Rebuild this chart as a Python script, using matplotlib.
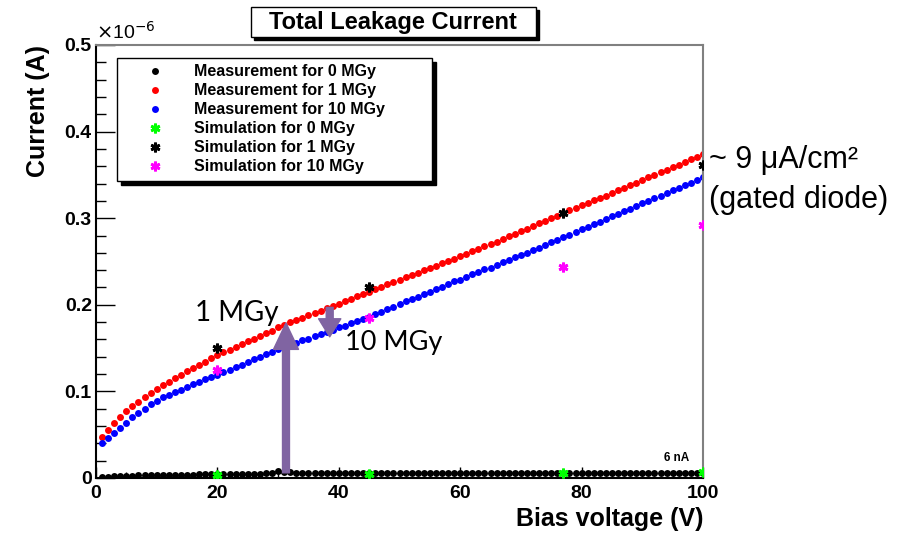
import numpy as np
import matplotlib.pyplot as plt
from matplotlib.patches import Rectangle, FancyArrowPatch

# bias voltage steps (V) and measured currents (units of 1e-6 A)
voltage = np.arange(1, 101)

meas_0mgy = [0.0010, 0.0015, 0.0020, 0.0020, 0.0025, 0.0025, 0.0030, 0.0030, 0.0030, 0.0035,
             0.0035, 0.0035, 0.0040, 0.0040, 0.0040, 0.0040, 0.0045, 0.0045, 0.0045, 0.0045,
             0.0050, 0.0050, 0.0050, 0.0050, 0.0050, 0.0050, 0.0050, 0.0055, 0.0055, 0.0080,
             0.0070, 0.0065, 0.0060, 0.0060, 0.0060, 0.0060, 0.0060, 0.0060, 0.0060, 0.0060,
             0.0060, 0.0060, 0.0060, 0.0060, 0.0060, 0.0060, 0.0060, 0.0060, 0.0060, 0.0060,
             0.0060, 0.0060, 0.0060, 0.0060, 0.0060, 0.0060, 0.0060, 0.0060, 0.0060, 0.0060,
             0.0060, 0.0060, 0.0060, 0.0060, 0.0060, 0.0060, 0.0060, 0.0060, 0.0060, 0.0060,
             0.0060, 0.0060, 0.0060, 0.0060, 0.0060, 0.0060, 0.0060, 0.0060, 0.0060, 0.0060,
             0.0060, 0.0060, 0.0060, 0.0060, 0.0060, 0.0060, 0.0060, 0.0060, 0.0060, 0.0060,
             0.0060, 0.0060, 0.0060, 0.0060, 0.0060, 0.0060, 0.0060, 0.0060, 0.0060, 0.0060]

meas_1mgy = [0.047, 0.055, 0.063, 0.070, 0.077, 0.083, 0.088, 0.093, 0.098, 0.103,
             0.107, 0.111, 0.115, 0.119, 0.123, 0.127, 0.131, 0.134, 0.138, 0.142,
             0.145, 0.148, 0.151, 0.155, 0.158, 0.161, 0.164, 0.167, 0.170, 0.174,
             0.177, 0.180, 0.182, 0.185, 0.188, 0.191, 0.193, 0.196, 0.199, 0.201,
             0.204, 0.207, 0.210, 0.212, 0.215, 0.218, 0.221, 0.224, 0.226, 0.229,
             0.232, 0.234, 0.237, 0.240, 0.243, 0.245, 0.248, 0.251, 0.253, 0.256,
             0.259, 0.262, 0.265, 0.268, 0.270, 0.273, 0.276, 0.279, 0.282, 0.285,
             0.288, 0.291, 0.294, 0.297, 0.300, 0.303, 0.306, 0.309, 0.312, 0.315,
             0.318, 0.321, 0.323, 0.326, 0.329, 0.332, 0.335, 0.338, 0.341, 0.344,
             0.347, 0.350, 0.353, 0.356, 0.359, 0.362, 0.365, 0.368, 0.371, 0.374]

meas_10mgy = [0.040, 0.046, 0.052, 0.058, 0.064, 0.070, 0.075, 0.080, 0.085, 0.089,
              0.093, 0.096, 0.099, 0.102, 0.105, 0.108, 0.111, 0.114, 0.117, 0.119,
              0.122, 0.125, 0.128, 0.131, 0.134, 0.137, 0.140, 0.143, 0.146, 0.149,
              0.151, 0.154, 0.156, 0.159, 0.161, 0.164, 0.166, 0.169, 0.171, 0.174,
              0.176, 0.179, 0.181, 0.184, 0.186, 0.189, 0.192, 0.195, 0.198, 0.201,
              0.204, 0.207, 0.209, 0.212, 0.215, 0.218, 0.221, 0.224, 0.227, 0.229,
              0.232, 0.235, 0.238, 0.241, 0.243, 0.246, 0.249, 0.252, 0.255, 0.257,
              0.260, 0.263, 0.266, 0.269, 0.272, 0.275, 0.278, 0.281, 0.284, 0.287,
              0.290, 0.293, 0.296, 0.299, 0.302, 0.305, 0.308, 0.311, 0.314, 0.317,
              0.320, 0.323, 0.326, 0.329, 0.332, 0.335, 0.338, 0.341, 0.344, 0.347]

# simulation points
sim_voltage = [20, 45, 77, 100]
sim_0mgy = [0.004, 0.005, 0.006, 0.007]
sim_1mgy = [0.150, 0.221, 0.306, 0.361]
sim_10mgy = [0.125, 0.185, 0.244, 0.292]

xticks = [0, 20, 40, 60, 80, 100]
yticks = [0, 0.1, 0.2, 0.3, 0.4, 0.5]
ytick_labels = ['0', '0.1', '0.2', '0.3', '0.4', '0.5']

fig = plt.figure(figsize=(9.15, 5.36), dpi=100)
ax = fig.add_axes([96/915, 58/536, 607/915, 433/536])

ms = 5
ax.plot(voltage, meas_0mgy, 'o', color='black', ms=ms, mew=0, label='Measurement for 0 MGy')
ax.plot(voltage, meas_1mgy, 'o', color='red', ms=ms, mew=0, label='Measurement for 1 MGy')
ax.plot(voltage, meas_10mgy, 'o', color='blue', ms=ms, mew=0, label='Measurement for 10 MGy')
star = (6, 2, 0)
ax.plot(sim_voltage, sim_0mgy, ls='none', marker=star, color='#00ff00', ms=7, mew=2, label='Simulation for 0 MGy', zorder=4)
ax.plot(sim_voltage, sim_1mgy, ls='none', marker=star, color='black', ms=7, mew=2, label='Simulation for 1 MGy', zorder=4)
ax.plot(sim_voltage, sim_10mgy, ls='none', marker=star, color='#ff00ff', ms=7, mew=2, label='Simulation for 10 MGy', zorder=4)

ax.set_xlim(0, 100)
ax.set_ylim(0, 0.5)
ax.set_xticks(xticks)
ax.set_xticks(np.arange(0, 101, 5), minor=True)
ax.set_yticks(yticks)
ax.set_yticklabels(ytick_labels)
ax.set_yticks(np.arange(0, 0.5, 0.02), minor=True)
ax.tick_params(axis='y', which='major', direction='in', length=14, width=1, pad=3)
ax.tick_params(axis='y', which='minor', direction='in', length=7, width=1)
ax.tick_params(axis='x', which='major', direction='in', length=8, width=1, pad=5)
ax.tick_params(axis='x', which='minor', direction='in', length=4, width=1)
for lab in ax.get_xticklabels() + ax.get_yticklabels():
    lab.set_fontfamily('Liberation Sans')
    lab.set_fontweight('bold')
    lab.set_fontsize(14)

for s in ['left', 'bottom']:
    ax.spines[s].set_color('black')
    ax.spines[s].set_linewidth(1.5)
for s in ['top', 'right']:
    ax.spines[s].set_color('#808080')
    ax.spines[s].set_linewidth(1.5)

ax.set_xlabel('Bias voltage (V)', fontfamily='Liberation Sans', fontweight='bold', fontsize=18)
ax.xaxis.set_label_coords(1.0, -0.067)
ax.xaxis.label.set_ha('right')
ax.set_ylabel('Current (A)', fontfamily='Liberation Sans', fontweight='bold', fontsize=18)
ax.yaxis.set_label_coords(-0.095, 1.0)
ax.yaxis.label.set_ha('right')
ax.yaxis.label.set_va('center')

ax.text(0.0, 1.005, r'$\times$10$^{-6}$', transform=ax.transAxes, fontsize=14,
        fontfamily='Liberation Sans', ha='left', va='bottom')

leg = ax.legend(loc='upper left', bbox_to_anchor=(0.0346, 0.97, 0.519, 0.0), mode='expand',
                frameon=True, fancybox=False, edgecolor='black', framealpha=1,
                shadow={'ox': 3, 'oy': -3, 'color': 'black', 'alpha': 1},
                prop={'family': 'Liberation Sans', 'weight': 'bold', 'size': 11.5},
                borderpad=0.4, handlelength=3.9, handletextpad=0.55, labelspacing=0.25,
                borderaxespad=0)
leg.get_frame().set_linewidth(1)

# purple arrows
arrow_color = '#8064A2'
big = FancyArrowPatch((31.3, 0.006), (31.3, 0.179), arrowstyle='simple,head_length=19,head_width=18,tail_width=5',
                      mutation_scale=1, color=arrow_color, shrinkA=0, shrinkB=0, zorder=5)
ax.add_patch(big)
small = FancyArrowPatch((38.5, 0.197), (38.5, 0.163), arrowstyle='simple,head_length=13,head_width=16,tail_width=5',
                        mutation_scale=1, color=arrow_color, shrinkA=0, shrinkB=0, zorder=5)
ax.add_patch(small)

ax.text(16.3, 0.19, '1 MGy', fontfamily='Lato', fontsize=20, ha='left', va='center')
ax.text(41.0, 0.156, '10 MGy', fontfamily='Lato', fontsize=19.5, ha='left', va='center')
ax.text(95.7, 0.023, '6 nA', fontfamily='Liberation Sans', fontweight='bold', fontsize=8.5, ha='center', va='center')
ax.text(101.0, 0.367, '~ 9 μA/cm²', fontfamily='Liberation Sans', fontsize=22, ha='left', va='center', clip_on=False)
ax.text(101.0, 0.321, '(gated diode)', fontfamily='Liberation Sans', fontsize=22, ha='left', va='center', clip_on=False)

# title box with shadow
fig.add_artist(Rectangle((254/915, 1 - 40/536), 285/915, 30/536, transform=fig.transFigure,
                         facecolor='black', edgecolor='black'))
fig.add_artist(Rectangle((251/915, 1 - 37/536), 285/915, 30/536, transform=fig.transFigure,
                         facecolor='white', edgecolor='black', lw=1))
fig.text(393/915, 1 - 22/536, 'Total Leakage Current', fontfamily='Liberation Sans', fontweight='bold',
         fontsize=17, ha='center', va='center')

fig.savefig('out.png', dpi=100)
